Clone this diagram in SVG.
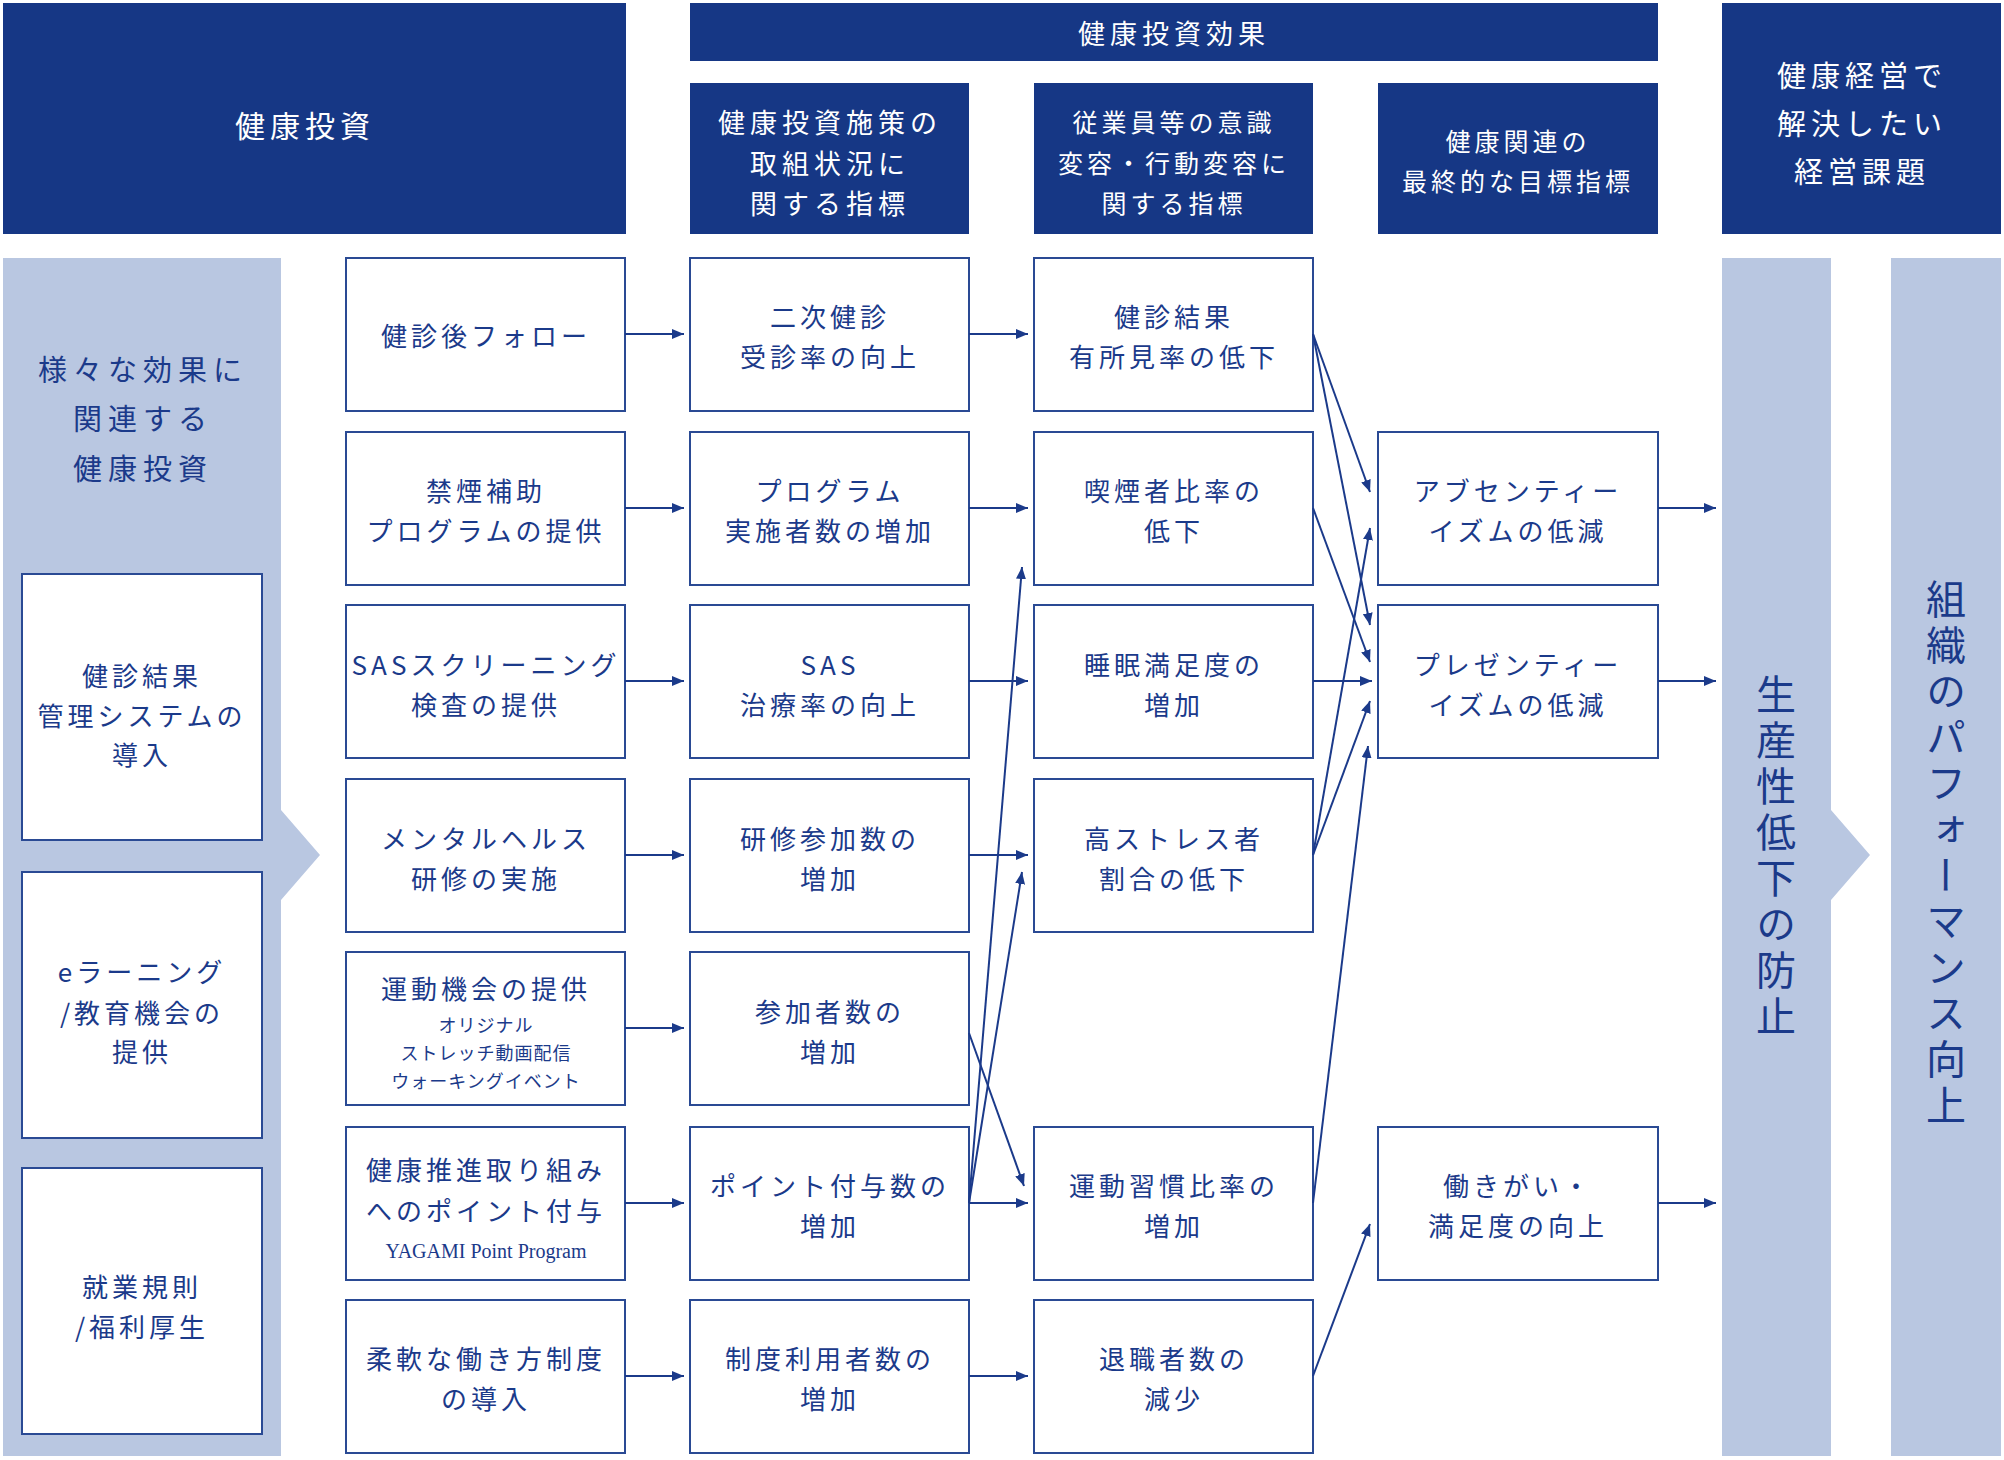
<svg xmlns="http://www.w3.org/2000/svg" width="2004" height="1460" viewBox="0 0 2004 1460">
<style>
text{font-family:"Noto Sans CJK JP","Noto Sans",sans-serif;text-anchor:middle;dominant-baseline:central}
.hd{fill:#163785}
.hw{fill:#fff;font-size:27px;letter-spacing:5px}
.lp{fill:#b9c7e1}
.bx{fill:#fff;stroke:#2a4a94;stroke-width:2}
.t{fill:#1b3a8a;font-size:26px;letter-spacing:4px}
.s{fill:#1b3a8a;font-size:18px;letter-spacing:1px}
.lt{fill:#1b3a8a;font-size:29px;letter-spacing:6px}
.v{fill:#1b3a8a;font-size:40px;letter-spacing:6px;writing-mode:vertical-rl}
.c{stroke:#1b3a8a;stroke-width:2;fill:none;marker-end:url(#ah)}
</style>
<defs><marker id="ah" viewBox="0 0 12 10" refX="12" refY="5" markerWidth="12" markerHeight="10" markerUnits="userSpaceOnUse" orient="auto"><path d="M0,0L12,5L0,10z" fill="#1b3a8a"/></marker></defs>
<rect width="2004" height="1460" fill="#fff"/>
<g id="headers">
<rect class="hd" x="3" y="3" width="623" height="231"/><text class="hw" x="305" y="124" style="font-size:30px">健康投資</text>
<rect class="hd" x="690" y="3" width="968" height="58"/><text class="hw" x="1174" y="32">健康投資効果</text>
<rect class="hd" x="690" y="83" width="279" height="151"/><text class="hw" x="830" y="121">健康投資施策の</text><text class="hw" x="830" y="162">取組状況に</text><text class="hw" x="830" y="202">関する指標</text>
<rect class="hd" x="1034" y="83" width="279" height="151"/><text class="hw" x="1174" y="121" style="font-size:25px;letter-spacing:4px">従業員等の意識</text><text class="hw" x="1174" y="162" style="font-size:25px;letter-spacing:4px">変容・行動変容に</text><text class="hw" x="1174" y="202" style="font-size:25px;letter-spacing:4px">関する指標</text>
<rect class="hd" x="1378" y="83" width="280" height="151"/><text class="hw" x="1518" y="140" style="font-size:25px;letter-spacing:4px">健康関連の</text><text class="hw" x="1518" y="180" style="font-size:25px;letter-spacing:4px">最終的な目標指標</text>
<rect class="hd" x="1722" y="3" width="279" height="231"/><text class="hw" x="1862" y="74" style="font-size:29px">健康経営で</text><text class="hw" x="1862" y="122" style="font-size:29px">解決したい</text><text class="hw" x="1862" y="170" style="font-size:29px">経営課題</text>
</g>
<g id="left-panel">
<path class="lp" d="M3,258H281V810L320,855L281,900V1456H3z"/>
<text class="lt" x="143" y="368">様々な効果に</text><text class="lt" x="143" y="417">関連する</text><text class="lt" x="143" y="467">健康投資</text>
<rect class="bx" x="22" y="574" width="240" height="266"/><text class="t" x="142" y="674">健診結果</text><text class="t" x="142" y="714">管理システムの</text><text class="t" x="142" y="753">導入</text>
<rect class="bx" x="22" y="872" width="240" height="266"/><text class="t" x="142" y="970">eラーニング</text><text class="t" x="142" y="1011">/教育機会の</text><text class="t" x="142" y="1050">提供</text>
<rect class="bx" x="22" y="1168" width="240" height="266"/><text class="t" x="142" y="1285">就業規則</text><text class="t" x="142" y="1325">/福利厚生</text>
</g>
<g id="right-panels">
<path class="lp" d="M1722,258H1831V810L1870,855L1831,900V1456H1722z"/>
<text class="v" x="1776" y="858">生産性低下の防止</text>
<rect class="lp" x="1891" y="258" width="110" height="1198"/>
<text class="v" x="1946" y="855">組織のパフォーマンス向上</text>
</g>
<g id="col1">
<g id="n1a"><rect class="bx" x="346" y="258" width="279" height="153"/><text class="t" x="486" y="334">健診後フォロー</text></g>
<g id="n1b"><rect class="bx" x="346" y="432" width="279" height="153"/><text class="t" x="486" y="489">禁煙補助</text><text class="t" x="486" y="529">プログラムの提供</text></g>
<g id="n1c"><rect class="bx" x="346" y="605" width="279" height="153"/><text class="t" x="486" y="663">SASスクリーニング</text><text class="t" x="486" y="703">検査の提供</text></g>
<g id="n1d"><rect class="bx" x="346" y="779" width="279" height="153"/><text class="t" x="486" y="837">メンタルヘルス</text><text class="t" x="486" y="877">研修の実施</text></g>
<g id="n1e"><rect class="bx" x="346" y="952" width="279" height="153"/><text class="t" x="486" y="987">運動機会の提供</text><text class="s" x="486" y="1024">オリジナル</text><text class="s" x="486" y="1052">ストレッチ動画配信</text><text class="s" x="486" y="1080">ウォーキングイベント</text></g>
<g id="n1f"><rect class="bx" x="346" y="1127" width="279" height="153"/><text class="t" x="486" y="1168">健康推進取り組み</text><text class="t" x="486" y="1209">へのポイント付与</text><text class="s" x="486" y="1251" style="font-family:'Liberation Serif',serif;font-size:20px;letter-spacing:0">YAGAMI Point Program</text></g>
<g id="n1g"><rect class="bx" x="346" y="1300" width="279" height="153"/><text class="t" x="486" y="1357">柔軟な働き方制度</text><text class="t" x="486" y="1397">の導入</text></g>
</g>
<g id="col2">
<g id="n2a"><rect class="bx" x="690" y="258" width="279" height="153"/><text class="t" x="830" y="315">二次健診</text><text class="t" x="830" y="355">受診率の向上</text></g>
<g id="n2b"><rect class="bx" x="690" y="432" width="279" height="153"/><text class="t" x="830" y="489">プログラム</text><text class="t" x="830" y="529">実施者数の増加</text></g>
<g id="n2c"><rect class="bx" x="690" y="605" width="279" height="153"/><text class="t" x="830" y="663">SAS</text><text class="t" x="830" y="703">治療率の向上</text></g>
<g id="n2d"><rect class="bx" x="690" y="779" width="279" height="153"/><text class="t" x="830" y="837">研修参加数の</text><text class="t" x="830" y="877">増加</text></g>
<g id="n2e"><rect class="bx" x="690" y="952" width="279" height="153"/><text class="t" x="830" y="1010">参加者数の</text><text class="t" x="830" y="1050">増加</text></g>
<g id="n2f"><rect class="bx" x="690" y="1127" width="279" height="153"/><text class="t" x="830" y="1184">ポイント付与数の</text><text class="t" x="830" y="1224">増加</text></g>
<g id="n2g"><rect class="bx" x="690" y="1300" width="279" height="153"/><text class="t" x="830" y="1357">制度利用者数の</text><text class="t" x="830" y="1397">増加</text></g>
</g>
<g id="col3">
<g id="n3a"><rect class="bx" x="1034" y="258" width="279" height="153"/><text class="t" x="1174" y="315">健診結果</text><text class="t" x="1174" y="355">有所見率の低下</text></g>
<g id="n3b"><rect class="bx" x="1034" y="432" width="279" height="153"/><text class="t" x="1174" y="489">喫煙者比率の</text><text class="t" x="1174" y="529">低下</text></g>
<g id="n3c"><rect class="bx" x="1034" y="605" width="279" height="153"/><text class="t" x="1174" y="663">睡眠満足度の</text><text class="t" x="1174" y="703">増加</text></g>
<g id="n3d"><rect class="bx" x="1034" y="779" width="279" height="153"/><text class="t" x="1174" y="837">高ストレス者</text><text class="t" x="1174" y="877">割合の低下</text></g>
<g id="n3f"><rect class="bx" x="1034" y="1127" width="279" height="153"/><text class="t" x="1174" y="1184">運動習慣比率の</text><text class="t" x="1174" y="1224">増加</text></g>
<g id="n3g"><rect class="bx" x="1034" y="1300" width="279" height="153"/><text class="t" x="1174" y="1357">退職者数の</text><text class="t" x="1174" y="1397">減少</text></g>
</g>
<g id="col4">
<g id="n4b"><rect class="bx" x="1378" y="432" width="280" height="153"/><text class="t" x="1518" y="489">アブセンティー</text><text class="t" x="1518" y="529">イズムの低減</text></g>
<g id="n4c"><rect class="bx" x="1378" y="605" width="280" height="153"/><text class="t" x="1518" y="663">プレゼンティー</text><text class="t" x="1518" y="703">イズムの低減</text></g>
<g id="n4f"><rect class="bx" x="1378" y="1127" width="280" height="153"/><text class="t" x="1518" y="1184">働きがい・</text><text class="t" x="1518" y="1224">満足度の向上</text></g>
</g>
<g id="connectors">
<path class="c" d="M625,334H684"/><path class="c" d="M625,508H684"/><path class="c" d="M625,681H684"/><path class="c" d="M625,855H684"/><path class="c" d="M625,1028H684"/><path class="c" d="M625,1203H684"/><path class="c" d="M625,1376H684"/>
<path class="c" d="M969,334H1028"/><path class="c" d="M969,508H1028"/><path class="c" d="M969,681H1028"/><path class="c" d="M969,855H1028"/><path class="c" d="M969,1203H1028"/><path class="c" d="M969,1376H1028"/>
<path class="c" d="M969,1203L1022,567"/><path class="c" d="M969,1203L1022,872"/><path class="c" d="M969,1033L1024,1186"/>
<path class="c" d="M1313,334L1370,492"/><path class="c" d="M1313,334L1370,625"/><path class="c" d="M1313,508L1370,662"/><path class="c" d="M1313,681H1372"/><path class="c" d="M1313,855L1370,528"/><path class="c" d="M1313,855L1370,701"/><path class="c" d="M1313,1203L1368,746"/><path class="c" d="M1313,1376L1370,1224"/>
<path class="c" d="M1658,508H1716"/><path class="c" d="M1658,681H1716"/><path class="c" d="M1658,1203H1716"/>
</g>
</svg>
